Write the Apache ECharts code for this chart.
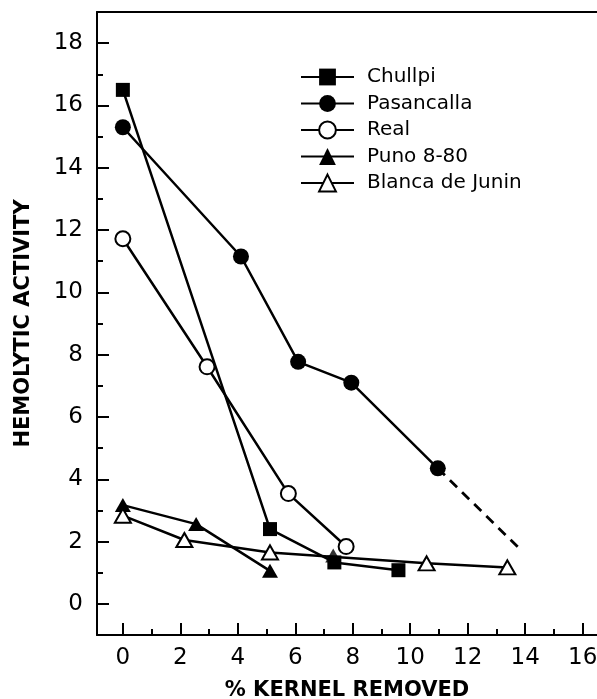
<!DOCTYPE html>
<html>
<head>
<meta charset="utf-8">
<script src="https://cdn.jsdelivr.net/npm/echarts@6/dist/echarts.min.js"></script>
<style>
  html, body { margin: 0; padding: 0; background: #fff; }
  #chart { width: 597px; height: 699px; }
</style>
</head>
<body>
<div id="chart"></div>
<script>
// hemolytic activity vs % kernel removed, five quinoa varieties
const chullpiX = [0, 5.12, 7.36, 9.59]
const chullpiY = [16.5, 2.4, 1.33, 1.08]
const pasancallaX = [0, 4.11, 6.1, 7.95, 10.96]
const pasancallaY = [15.3, 11.15, 7.77, 7.1, 4.35]
const pasancallaExtX = [10.96, 13.74]   // dashed extrapolation
const pasancallaExtY = [4.35, 1.83]
const realX = [0, 2.93, 5.76, 7.77]
const realY = [11.72, 7.61, 3.54, 1.84]
const punoX = [0, 2.55, 5.12]
const punoY = [3.17, 2.56, 1.06]
const punoLoneX = [7.32]   // stray filled triangle near 7.4 %
const punoLoneY = [1.55]
const blancaX = [0, 2.14, 5.12, 10.57, 13.38]
const blancaY = [2.83, 2.05, 1.65, 1.30, 1.17]

const xMajor = [0, 2, 4, 6, 8, 10, 12, 14, 16]
const xMinor = [1, 3, 5, 7, 9, 11, 13, 15]
const yMajor = [0, 2, 4, 6, 8, 10, 12, 14, 16, 18]
const yMinor = [1, 3, 5, 7, 9, 11, 13, 15, 17]

const FONT = 'DejaVu Sans'
const pairs = (xs, ys) => xs.map((x, i) => [x, ys[i]])

function lineSeries(name, xs, ys, symbol, size) {
  return {
    name,
    type: 'line',
    data: pairs(xs, ys),
    symbol,
    symbolSize: size,
    showAllSymbol: true,
    lineStyle: { color: '#000', width: 2.5, type: 'solid' },
    itemStyle: { color: '#000', borderWidth: 2.2 },
    animation: false,
    z: 3,
  }
}

const xRange = { min: -0.9, max: 16.5 }
const yRange = { min: -1, max: 19 }
const tickStyle = { color: '#000', width: 2 }

const chart = echarts.init(document.getElementById('chart'))
chart.setOption({
  backgroundColor: '#fff',
  grid: { left: 97, right: 0, top: 12, bottom: 64, outerBoundsMode: 'none' },
  xAxis: [
    {
      type: 'value', ...xRange, position: 'bottom',
      name: '% KERNEL REMOVED', nameLocation: 'middle', nameGap: 45,
      nameTextStyle: { fontFamily: FONT, fontWeight: 'bold', fontSize: 21, color: '#000' },
      axisLine: { show: true, onZero: false, lineStyle: tickStyle },
      axisTick: { show: true, inside: true, length: 12, customValues: xMajor, lineStyle: tickStyle },
      axisLabel: { customValues: xMajor, fontFamily: FONT, fontSize: 23, color: '#000', margin: 12 },
      splitLine: { show: false },
    },
    {
      type: 'value', ...xRange, position: 'bottom', offset: 0,
      axisLine: { show: false, onZero: false },
      axisTick: { show: true, inside: true, length: 6, customValues: xMinor, lineStyle: tickStyle },
      axisLabel: { show: false },
      splitLine: { show: false },
    },
    {
      type: 'value', ...xRange, position: 'top',
      axisLine: { show: true, onZero: false, lineStyle: tickStyle },
      axisTick: { show: false },
      axisLabel: { show: false },
      splitLine: { show: false },
    },
  ],
  yAxis: [
    {
      type: 'value', ...yRange, position: 'left',
      name: 'HEMOLYTIC ACTIVITY', nameLocation: 'middle', nameGap: 63,
      nameTextStyle: { fontFamily: FONT, fontWeight: 'bold', fontSize: 21, color: '#000' },
      axisLine: { show: true, onZero: false, lineStyle: tickStyle },
      axisTick: { show: true, inside: true, length: 12, customValues: yMajor, lineStyle: tickStyle },
      axisLabel: { customValues: yMajor, fontFamily: FONT, fontSize: 23, color: '#000', margin: 14 },
      splitLine: { show: false },
    },
    {
      type: 'value', ...yRange, position: 'left', offset: 0,
      axisLine: { show: false, onZero: false },
      axisTick: { show: true, inside: true, length: 6, customValues: yMinor, lineStyle: tickStyle },
      axisLabel: { show: false },
      splitLine: { show: false },
    },
  ],
  legend: {
    data: ['Chullpi', 'Pasancalla', 'Real', 'Puno 8-80', 'Blanca de Junin'],
    orient: 'vertical',
    left: 295, top: 62,
    itemWidth: 53, itemHeight: 21, itemGap: 6.5,
    textStyle: { fontFamily: FONT, fontSize: 20, color: '#000', padding: [0, 0, 0, 8] },
  },
  series: [
    lineSeries('Chullpi', chullpiX, chullpiY, 'rect', 14),
    lineSeries('Pasancalla', pasancallaX, pasancallaY, 'circle', 16),
    {
      name: 'Pasancalla (extrapolated)', type: 'line',
      data: pairs(pasancallaExtX, pasancallaExtY),
      symbol: 'none',
      lineStyle: { color: '#000', width: 2.8, type: [10, 7] },
      animation: false, z: 2,
    },
    lineSeries('Real', realX, realY, 'emptyCircle', 15),
    lineSeries('Puno 8-80', punoX, punoY, 'triangle', [16, 14]),
    {
      name: 'Puno 8-80 (point)', type: 'scatter',
      data: pairs(punoLoneX, punoLoneY),
      symbol: 'triangle', symbolSize: [16, 14],
      itemStyle: { color: '#000' },
      animation: false, z: 4,
    },
    lineSeries('Blanca de Junin', blancaX, blancaY, 'emptyTriangle', [16, 14]),
  ],
})
</script>
</body>
</html>
